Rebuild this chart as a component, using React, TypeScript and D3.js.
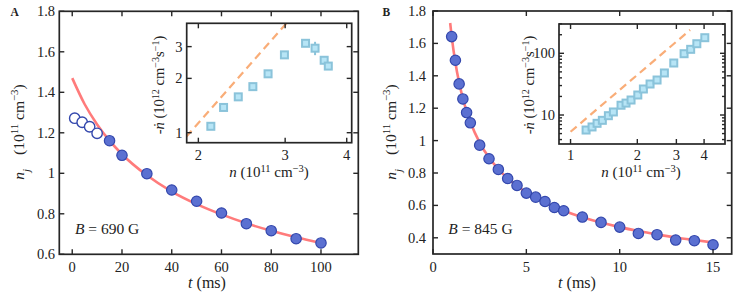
import React from 'react';
import * as d3 from 'd3';

// ---------- Panel A data ----------
const tAOpen = [1, 4, 7, 10];
const nAOpen = [1.272, 1.252, 1.23, 1.1975];
const tA = [15, 20, 30, 40, 50, 60, 70, 80, 90, 100];
const nA = [1.161, 1.089, 0.998, 0.9175, 0.862, 0.804, 0.751, 0.7165, 0.677, 0.656];
const fitTA = [0, 5, 10, 15, 20, 30, 40, 50, 60, 70, 80, 90, 100];
const fitNA = [1.47, 1.341, 1.2415, 1.161, 1.094, 0.99, 0.91, 0.848, 0.797, 0.753, 0.716, 0.684, 0.656];
const insetNA = [2.12, 2.25, 2.41, 2.58, 2.77, 2.99, 3.3, 3.45, 3.6, 3.67];
const insetRateA = [1.085, 1.38, 1.58, 1.8, 2.12, 2.7, 3.13, 2.94, 2.52, 2.34];
const insetErrA = [0, 0, 0, 0, 0, 0, 0.12, 0.25, 0.12, 0];
const guideNA = [1.89, 3.03];
const guideRateA = [0.95, 4.09];

// ---------- Panel B data ----------
const tB = [1, 1.2, 1.4, 1.6, 1.8, 2, 2.5, 3, 3.5, 4, 4.5, 5, 5.5, 6, 6.5, 7, 8, 9, 10, 11, 12, 13, 14, 15];
const nB = [1.642, 1.496, 1.35, 1.257, 1.173, 1.11, 0.972, 0.888, 0.822, 0.766, 0.723, 0.676, 0.651, 0.624, 0.587, 0.567, 0.528, 0.495, 0.466, 0.427, 0.419, 0.386, 0.382, 0.357];
const fitTB = [0.92, 1, 1.2, 1.4, 1.6, 1.8, 2, 2.5, 3, 3.5, 4, 4.5, 5, 6, 7, 8, 9, 10, 11, 12, 13, 14, 15];
const fitNB = [1.726, 1.644, 1.481, 1.358, 1.26, 1.181, 1.115, 0.988, 0.895, 0.824, 0.767, 0.72, 0.68, 0.616, 0.567, 0.527, 0.494, 0.466, 0.442, 0.421, 0.402, 0.386, 0.371];
const insetNB = [1.175, 1.25, 1.317, 1.391, 1.481, 1.56, 1.689, 1.779, 1.874, 2.01, 2.13, 2.283, 2.455, 2.649, 2.92, 3.25, 3.48, 3.71, 4.03];
const insetRateB = [5.71, 6.4, 7.33, 8.2, 9.75, 11.2, 14.4, 15.6, 17.5, 21.1, 26.4, 31.8, 36.9, 48, 69.6, 98.5, 116, 143, 179];
const guideNB = [1.0, 3.46];
const guideRateB = [5.36, 239];

// ---------- ticks ----------
const xTicksA = [0, 20, 40, 60, 80, 100];
const yTicksA = [0.6, 0.8, 1, 1.2, 1.4, 1.6, 1.8];
const xTicksB = [0, 5, 10, 15];
const yTicksB = [0.4, 0.6, 0.8, 1, 1.2, 1.4, 1.6, 1.8];
const insetXTicksA = [2, 3, 4];
const insetYTicksA = [1, 2, 3];
const insetXTicksB = [1, 2, 3, 4];
const insetYTicksB = [10, 100];
const insetYMinorB = [4, 5, 6, 7, 8, 9, 20, 30, 40, 50, 60, 70, 80, 90, 200, 300];

const FONT = '"Liberation Serif"';
const FS = { fontFamily: FONT };
const AX = '#262626';
const RED = '#ff7b7b';
const DOT_FILL = '#5b70d1';
const DOT_STROKE = '#3448ad';
const SQ_FILL = '#b7e5f6';
const SQ_STROKE = '#8ac3da';
const ORANGE = '#f9ad78';

const fmt = (v: number) => (Number.isInteger(v) ? String(v) : v.toFixed(1));

type Scale = (v: number) => number;

function Frame({ x, y, fill }: { x: [number, number]; y: [number, number]; fill?: string }) {
  return (
    <rect x={x[0]} y={y[0]} width={x[1] - x[0]} height={y[1] - y[0]} fill={fill || 'none'} stroke={AX} strokeWidth={1.7} />
  );
}

function TicksX({ ticks, sx, y0, y1, len, labels, labelY, size }: any) {
  return (
    <g>
      {ticks.map((t: number) => (
        <g key={'tx' + t}>
          <line x1={sx(t)} x2={sx(t)} y1={y1} y2={y1 - len} stroke={AX} strokeWidth={1.4} />
          <line x1={sx(t)} x2={sx(t)} y1={y0} y2={y0 + len} stroke={AX} strokeWidth={1.4} />
          {labels && (
            <text x={sx(t)} y={labelY} textAnchor="middle" fontSize={size} fill="#222" style={FS}>
              {fmt(t)}
            </text>
          )}
        </g>
      ))}
    </g>
  );
}

function TicksY({ ticks, sy, x0, x1, len, labels, labelX, size }: any) {
  return (
    <g>
      {ticks.map((t: number) => (
        <g key={'ty' + t}>
          <line x1={x0} x2={x0 + len} y1={sy(t)} y2={sy(t)} stroke={AX} strokeWidth={1.4} />
          <line x1={x1} x2={x1 - len} y1={sy(t)} y2={sy(t)} stroke={AX} strokeWidth={1.4} />
          {labels && (
            <text x={labelX} y={sy(t)} dy="0.35em" textAnchor="end" fontSize={size} fill="#222" style={FS}>
              {fmt(t)}
            </text>
          )}
        </g>
      ))}
    </g>
  );
}

function Sup({ children }: { children: React.ReactNode }) {
  return (
    <tspan baselineShift="super" fontSize="70%">
      {children}
    </tspan>
  );
}

function MainYLabel({ x, y }: { x: number; y: number }) {
  return (
    <text transform={`translate(${x},${y}) rotate(-90)`} textAnchor="middle" fontSize={15.5} fill="#222" style={FS}>
      <tspan fontStyle="italic">n</tspan>
      <tspan baselineShift="sub" fontSize="70%" fontStyle="italic">j</tspan>
      <tspan dx="14">(10</tspan>
      <Sup>11</Sup>
      <tspan> cm</tspan>
      <Sup>−3</Sup>
      <tspan>)</tspan>
    </text>
  );
}

function InsetYLabel({ x, y }: { x: number; y: number }) {
  return (
    <text transform={`translate(${x},${y}) rotate(-90)`} textAnchor="middle" fontSize={14.5} fill="#222" style={FS}>
      <tspan>-</tspan>
      <tspan fontStyle="italic">ṅ</tspan>
      <tspan> (10</tspan>
      <Sup>12</Sup>
      <tspan> cm</tspan>
      <Sup>−3</Sup>
      <tspan>s</tspan>
      <Sup>−1</Sup>
      <tspan>)</tspan>
    </text>
  );
}

function InsetXLabel({ x, y }: { x: number; y: number }) {
  return (
    <text x={x} y={y} textAnchor="middle" fontSize={15} fill="#222" style={FS}>
      <tspan fontStyle="italic">n</tspan>
      <tspan> (10</tspan>
      <Sup>11</Sup>
      <tspan> cm</tspan>
      <Sup>−3</Sup>
      <tspan>)</tspan>
    </text>
  );
}

function TLabel({ x, y }: { x: number; y: number }) {
  return (
    <text x={x} y={y} textAnchor="middle" fontSize={16} fill="#222" style={FS}>
      <tspan fontStyle="italic">t</tspan>
      <tspan> (ms)</tspan>
    </text>
  );
}

function FieldLabel({ x, y, val }: { x: number; y: number; val: string }) {
  return (
    <text x={x} y={y} fontSize={15.5} fill="#222" style={FS}>
      <tspan fontStyle="italic">B</tspan>
      <tspan>{` = ${val} G`}</tspan>
    </text>
  );
}

function Squares({ xs, ys, sx, sy }: { xs: number[]; ys: number[]; sx: Scale; sy: Scale }) {
  const s = 7;
  return (
    <g>
      {xs.map((v, i) => (
        <rect key={'sq' + i} x={sx(v) - s / 2} y={sy(ys[i]) - s / 2} width={s} height={s} fill={SQ_FILL} stroke={SQ_STROKE} strokeWidth={2} />
      ))}
    </g>
  );
}

export default function App() {
  // ---------- Panel A scales ----------
  const aX: [number, number] = [59.3, 358.3];
  const aY: [number, number] = [11.3, 254.3];
  const sxA = d3.scaleLinear().domain([-5.2, 115]).range(aX);
  const syA = d3.scaleLinear().domain([1.8, 0.6]).range(aY);

  const iaX: [number, number] = [186.7, 351.7];
  const iaY: [number, number] = [23.3, 142.7];
  const sxIA = d3.scaleLog().domain([1.894, 4.094]).range(iaX);
  const syIA = d3.scaleLog().domain([4.04, 0.88]).range(iaY);

  // ---------- Panel B scales ----------
  const bX: [number, number] = [433, 731.7];
  const bY: [number, number] = [11, 254];
  const sxB = d3.scaleLinear().domain([0, 16]).range(bX);
  const syB = d3.scaleLinear().domain([1.8, 0.3]).range(bY);

  const ibX: [number, number] = [559, 725];
  const ibY: [number, number] = [24, 144];
  const sxIB = d3.scaleLog().domain([0.887, 4.97]).range(ibX);
  const syIB = d3.scaleLog().domain([298.5, 3.39]).range(ibY);

  const lineA = d3
    .line<number>()
    .x((d) => sxA(d))
    .y((_, i) => syA(fitNA[i]))
    .curve(d3.curveMonotoneX)(fitTA) as string;
  const lineB = d3
    .line<number>()
    .x((d) => sxB(d))
    .y((_, i) => syB(fitNB[i]))
    .curve(d3.curveMonotoneX)(fitTB) as string;

  const guideA = d3
    .line<number>()
    .x((d) => sxIA(d))
    .y((_, i) => syIA(guideRateA[i]))(guideNA) as string;
  const guideB = d3
    .line<number>()
    .x((d) => sxIB(d))
    .y((_, i) => syIB(guideRateB[i]))(guideNB) as string;

  const r = 5.2;

  return (
    <svg width={747} height={299} style={{ position: 'absolute', left: 0, top: 0, background: '#fff', fontFamily: FONT }}>
      <defs>
        <clipPath id="clipIA">
          <rect x={iaX[0]} y={iaY[0]} width={iaX[1] - iaX[0]} height={iaY[1] - iaY[0]} />
        </clipPath>
        <clipPath id="clipIB">
          <rect x={ibX[0]} y={ibY[0]} width={ibX[1] - ibX[0]} height={ibY[1] - ibY[0]} />
        </clipPath>
      </defs>

      {/* ================= Panel A ================= */}
      <text x={10.5} y={15.5} fontSize={11.5} fontWeight="bold" fill="#222" style={FS}>A</text>
      <path d={lineA} fill="none" stroke={RED} strokeWidth={2.6} />
      {tAOpen.map((t, i) => (
        <circle key={'ao' + i} cx={sxA(t)} cy={syA(nAOpen[i])} r={r} fill="#fff" stroke={DOT_STROKE} strokeWidth={1.4} />
      ))}
      {tA.map((t, i) => (
        <circle key={'af' + i} cx={sxA(t)} cy={syA(nA[i])} r={r} fill={DOT_FILL} stroke={DOT_STROKE} strokeWidth={1.2} />
      ))}
      <TicksX ticks={xTicksA} sx={sxA} y0={aY[0]} y1={aY[1]} len={5} labels labelY={272} size={14.5} />
      <TicksY ticks={yTicksA} sy={syA} x0={aX[0]} x1={aX[1]} len={5} labels labelX={55} size={14.5} />
      <Frame x={aX} y={aY} />
      <FieldLabel x={75} y={233.5} val="690" />
      <TLabel x={207} y={288} />
      <MainYLabel x={24} y={132} />

      {/* Inset A */}
      <rect x={iaX[0]} y={iaY[0]} width={iaX[1] - iaX[0]} height={iaY[1] - iaY[0]} fill="#fff" />
      <g clipPath="url(#clipIA)">
        <path d={guideA} fill="none" stroke={ORANGE} strokeWidth={2.2} strokeDasharray="8,5" />
      </g>
      {insetNA.map((v, i) =>
        insetErrA[i] > 0 ? (
          <line key={'ea' + i} x1={sxIA(v)} x2={sxIA(v)} y1={syIA(insetRateA[i] + insetErrA[i])} y2={syIA(insetRateA[i] - insetErrA[i])} stroke={SQ_STROKE} strokeWidth={2} />
        ) : null
      )}
      <Squares xs={insetNA} ys={insetRateA} sx={sxIA} sy={syIA} />
      <TicksX ticks={insetXTicksA} sx={sxIA} y0={iaY[0]} y1={iaY[1]} len={5} labels labelY={160} size={14.5} />
      <TicksY ticks={insetYTicksA} sy={syIA} x0={iaX[0]} x1={iaX[1]} len={5} labels labelX={182.5} size={14.5} />
      <Frame x={iaX} y={iaY} />
      <InsetXLabel x={269} y={177} />
      <InsetYLabel x={164} y={85} />

      {/* ================= Panel B ================= */}
      <text x={382.5} y={15.5} fontSize={11.5} fontWeight="bold" fill="#222" style={FS}>B</text>
      <path d={lineB} fill="none" stroke={RED} strokeWidth={2.6} />
      {tB.map((t, i) => (
        <circle key={'bf' + i} cx={sxB(t)} cy={syB(nB[i])} r={r} fill={DOT_FILL} stroke={DOT_STROKE} strokeWidth={1.2} />
      ))}
      <TicksX ticks={xTicksB} sx={sxB} y0={bY[0]} y1={bY[1]} len={5} labels labelY={272} size={14.5} />
      <TicksY ticks={yTicksB} sy={syB} x0={bX[0]} x1={bX[1]} len={5} labels labelX={426} size={14.5} />
      <Frame x={bX} y={bY} />
      <FieldLabel x={448.3} y={233.5} val="845" />
      <TLabel x={577} y={288} />
      <MainYLabel x={396} y={132} />

      {/* Inset B */}
      <rect x={ibX[0]} y={ibY[0]} width={ibX[1] - ibX[0]} height={ibY[1] - ibY[0]} fill="#fff" />
      <g clipPath="url(#clipIB)">
        <path d={guideB} fill="none" stroke={ORANGE} strokeWidth={2.2} strokeDasharray="8,5" />
      </g>
      <Squares xs={insetNB} ys={insetRateB} sx={sxIB} sy={syIB} />
      <TicksX ticks={insetXTicksB} sx={sxIB} y0={ibY[0]} y1={ibY[1]} len={5} labels labelY={160} size={14.5} />
      <TicksY ticks={insetYTicksB} sy={syIB} x0={ibX[0]} x1={ibX[1]} len={5} labels labelX={555} size={14.5} />
      <TicksY ticks={insetYMinorB} sy={syIB} x0={ibX[0]} x1={ibX[1]} len={3} />
      <Frame x={ibX} y={ibY} />
      <InsetXLabel x={641} y={177} />
      <InsetYLabel x={534} y={85} />
    </svg>
  );
}
